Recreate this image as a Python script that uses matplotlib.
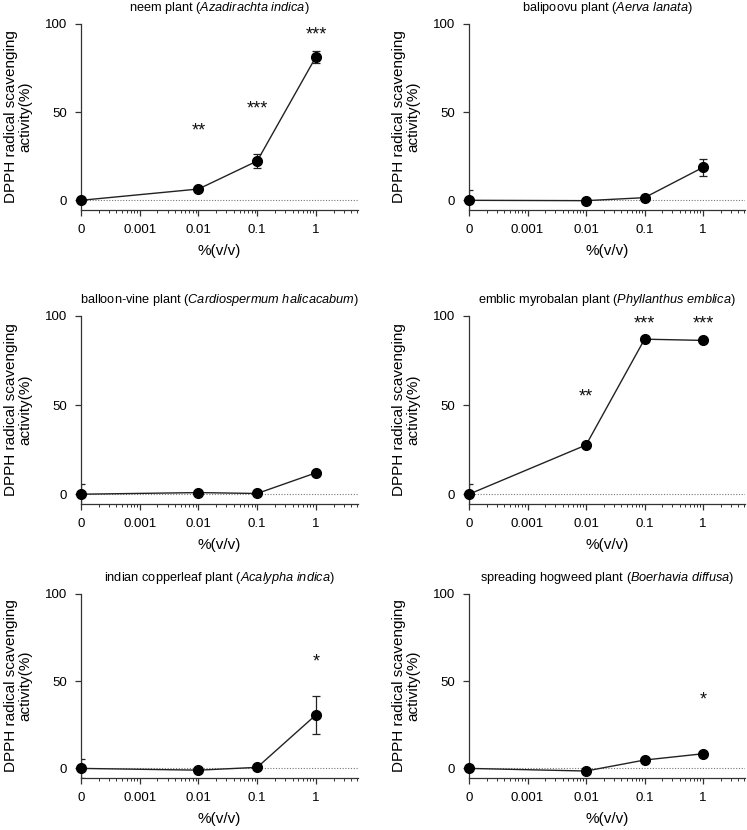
import numpy as np
import matplotlib
matplotlib.use('Agg')
import matplotlib.pyplot as plt
from matplotlib.ticker import LogLocator, FixedLocator, NullFormatter

plt.rcParams['font.family'] = ['Liberation Sans', 'DejaVu Sans']
plt.rcParams['mathtext.fontset'] = 'custom'
plt.rcParams['mathtext.rm'] = 'Liberation Sans'
plt.rcParams['mathtext.it'] = 'Liberation Sans:italic'

# concentrations, % (v/v); the control "0" sits at 1e-4 on the log axis
conc = [0, 0.01, 0.1, 1]
conc_labels = ['0', '0.001', '0.01', '0.1', '1']
conc_ticks = [1e-4, 1e-3, 1e-2, 1e-1, 1]
zero_pos = 1e-4

titles = [
    r'neem plant ($\mathit{Azadirachta\ indica}$)',
    r'balipoovu plant ($\mathit{Aerva\ lanata}$)',
    r'balloon-vine plant ($\mathit{Cardiospermum\ halicacabum}$)',
    r'emblic myrobalan plant ($\mathit{Phyllanthus\ emblica}$)',
    r'indian copperleaf plant ($\mathit{Acalypha\ indica}$)',
    r'spreading hogweed plant ($\mathit{Boerhavia\ diffusa}$)',
]

neem_mean = [0, 6.4, 22.3, 81.4]
neem_err = [0, 0.8, 3.7, 3.3]
neem_stars = ['', '**', '***', '***']
neem_star_y = [0, 42.8, 55, 97]

bali_mean = [0, -0.2, 1.5, 18.7]
bali_err = [5.9, 0.5, 1.0, 5.0]
bali_stars = ['', '', '', '']
bali_star_y = [0, 0, 0, 0]

balloon_mean = [0, 0.9, 0.4, 12.0]
balloon_err = [5.8, 0.5, 0.5, 1.0]
balloon_stars = ['', '', '', '']
balloon_star_y = [0, 0, 0, 0]

emblic_mean = [0, 27.6, 87.0, 86.3]
emblic_err = [6.0, 1.0, 1.0, 1.0]
emblic_stars = ['', '**', '***', '***']
emblic_star_y = [0, 57.7, 99, 99]

copper_mean = [0, -1.0, 0.6, 30.7]
copper_err = [5.5, 0.5, 0.5, 10.7]
copper_stars = ['', '', '', '*']
copper_star_y = [0, 0, 0, 64.4]

hog_mean = [0, -1.5, 4.8, 8.4]
hog_err = [0.5, 0.5, 0.5, 0.5]
hog_stars = ['', '', '', '*']
hog_star_y = [0, 0, 0, 42.9]

panels = [
    (neem_mean, neem_err, neem_stars, neem_star_y),
    (bali_mean, bali_err, bali_stars, bali_star_y),
    (balloon_mean, balloon_err, balloon_stars, balloon_star_y),
    (emblic_mean, emblic_err, emblic_stars, emblic_star_y),
    (copper_mean, copper_err, copper_stars, copper_star_y),
    (hog_mean, hog_err, hog_stars, hog_star_y),
]

W, H = 747, 830
fig = plt.figure(figsize=(W / 100, H / 100), dpi=100)

# axes boxes in pixels: left, top, right, bottom
cols = [(81, 358), (469, 745)]
rows = [(24, 210), (316, 504), (594, 778)]

star_size = 13

for i, (mean, err, stars, star_y) in enumerate(panels):
    x0, x1 = cols[i % 2]
    y0, y1 = rows[i // 2]
    ax = fig.add_axes([x0 / W, 1 - y1 / H, (x1 - x0) / W, (y1 - y0) / H])
    xs = [zero_pos if c == 0 else c for c in conc]

    ax.set_xscale('log')
    ax.set_xlim(1e-4, 5.2)
    ax.set_ylim(-5.5, 100)
    ax.axhline(0, color='#777777', lw=0.8, ls=(0, (1, 1.5)), zorder=1)

    ax.errorbar(xs, mean, yerr=err, fmt='none', ecolor='#222222',
                elinewidth=0.9, capsize=2.6, capthick=0.9, zorder=2)
    ax.plot(xs, mean, color='#222222', lw=1.0, marker='o', ms=7,
            mfc='black', mec='black', clip_on=False, zorder=3)

    # asterisk glyph centre sits ~0.58 em above the baseline
    for xv, s, sy in zip(xs, stars, star_y):
        if s:
            ax.annotate(s, (xv, sy), xytext=(0, -0.58 * star_size),
                        textcoords='offset points', ha='center',
                        va='baseline', fontsize=star_size, color='#111111',
                        annotation_clip=False)

    for side in ['top', 'right']:
        ax.spines[side].set_visible(False)
    for side in ['left', 'bottom']:
        ax.spines[side].set_color('#333333')
        ax.spines[side].set_linewidth(0.9)

    ax.xaxis.set_major_locator(FixedLocator(conc_ticks))
    ax.set_xticklabels(conc_labels)
    ax.xaxis.set_minor_locator(LogLocator(base=10, subs=np.arange(2, 10)))
    ax.xaxis.set_minor_formatter(NullFormatter())
    ax.set_yticks([0, 50, 100])
    ax.tick_params(axis='both', which='major', direction='out', length=4,
                   width=0.9, color='#333333', labelsize=9.5, pad=6)
    ax.tick_params(axis='x', which='minor', direction='out', length=2.5,
                   width=0.7, color='#333333')

    ax.set_title(titles[i], fontsize=9.2, pad=9)
    ax.set_xlabel('%(v/v)', fontsize=11, labelpad=6)
    ax.set_ylabel('DPPH radical scavenging\nactivity(%)', fontsize=11,
                  linespacing=1.0, labelpad=9)

fig.savefig('out.png', dpi=100)
